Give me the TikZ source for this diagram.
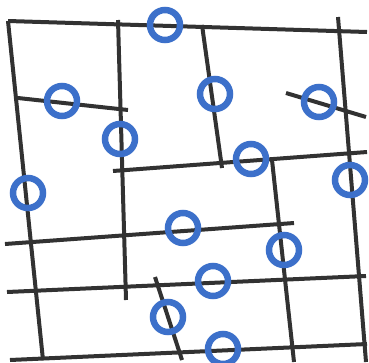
\documentclass[tikz,border=0pt]{standalone}
\usepackage{tikz}
\usetikzlibrary{positioning}
\definecolor{ringblue}{RGB}{60,112,202}
\definecolor{wallgray}{RGB}{50,50,50}

\begin{document}
\begin{tikzpicture}[x=1pt, y=-1pt,
    wall/.style={wallgray, line width=4pt},
    ring/.style={circle, draw=ringblue, line width=6.5pt, minimum size=30pt, inner sep=0pt}]
  \useasboundingbox (0,0) rectangle (369,362);
  % long lines
  \draw[wall] (8,21) -- (367,32);
  \draw[wall] (8,21) -- (43,360);
  \draw[wall] (118,20) -- (126,300);
  \draw[wall] (338,17) -- (366,362);
  \draw[wall] (5,244) -- (294,223);
  \draw[wall] (7,292) -- (366,276);
  \draw[wall] (10,360) -- (367,344);
  \draw[wall] (113,171) -- (367,152);
  % short pieces
  \draw[wall] (18,98) -- (128,110);
  \draw[wall] (202,25) -- (222,168);
  \draw[wall] (286,93) -- (366,117);
  \draw[wall] (272,160) -- (294,362);
  \draw[wall] (155,277) -- (182,360);
  % rings
  \node[ring] (r1) at (165,25) {};
  \node[ring] (r2) at (62,101) {};
  \node[ring] (r3) at (120,139) {};
  \node[ring] (r4) at (215,94) {};
  \node[ring] (r5) at (319,102) {};
  \node[ring] (r6) at (251,159) {};
  \node[ring] (r7) at (350,180) {};
  \node[ring] (r8) at (28,193) {};
  \node[ring] (r9) at (183,228) {};
  \node[ring] (r10) at (284,250) {};
  \node[ring] (r11) at (213,281) {};
  \node[ring] (r12) at (168,317) {};
  \node[ring] (r13) at (223,349) {};
\end{tikzpicture}
\end{document}
